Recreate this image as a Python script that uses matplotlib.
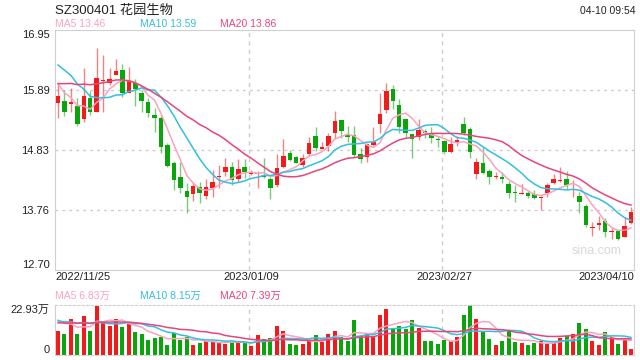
import numpy as np
import pandas as pd
import matplotlib
matplotlib.use("Agg")
import matplotlib.pyplot as plt

plt.rcParams["font.family"] = ["Liberation Sans", "Noto Sans CJK SC", "DejaVu Sans"]

# --- daily OHLC (2022/11/25 .. 2023/04/10) ---
opens = [15.663, 15.693, 15.640, 15.604, 15.374, 15.746, 15.504, 16.053, 16.017, 16.153,
         16.242, 15.840, 16.006, 15.840, 15.681, 15.445, 15.398, 14.914, 14.589, 14.353,
         14.099, 14.040, 14.164, 14.016, 14.146, 14.347, 14.441, 14.530, 14.311, 14.530,
         14.400, 14.400, 14.382, 14.311, 14.205, 14.530, 14.766, 14.707, 14.559, 14.754,
         15.073, 14.849, 14.896, 15.132, 15.356, 15.091, 15.091, 14.754, 14.707, 14.914,
         15.285, 15.533, 15.905, 15.622, 15.368, 15.103, 15.061, 15.161, 15.120, 15.020,
         14.984, 14.795, 14.973, 15.280, 15.197, 14.394, 14.589, 14.453, 14.347, 14.353,
         14.223, 14.081, 14.051, 14.069, 14.040, 13.969, 14.058, 14.247, 14.276, 14.311,
         14.164, 14.010, 13.828, 13.450, 13.491, 13.568, 13.373, 13.391, 13.290, 13.526]
highs = [16.006, 15.888, 15.917, 15.740, 16.271, 15.870, 16.625, 16.507, 16.271, 16.436,
         16.342, 16.289, 16.076, 15.888, 15.740, 15.563, 15.445, 14.943, 14.630, 14.618,
         14.235, 14.264, 14.264, 14.306, 14.471, 14.559, 14.677, 14.618, 14.660, 14.660,
         14.471, 14.459, 14.677, 14.353, 14.748, 15.020, 14.825, 14.719, 14.754, 15.049,
         15.226, 14.973, 15.132, 15.522, 15.356, 15.256, 15.250, 14.855, 14.955, 15.238,
         15.828, 16.006, 15.976, 15.728, 15.386, 15.108, 15.374, 15.197, 15.226, 15.073,
         15.002, 15.049, 15.073, 15.403, 15.226, 14.677, 14.884, 14.483, 14.441, 14.441,
         14.282, 14.205, 14.223, 14.105, 14.117, 14.010, 14.235, 14.400, 14.530, 14.453,
         14.294, 14.081, 13.869, 13.556, 13.651, 13.621, 13.438, 13.408, 13.633, 13.810]
lows = [15.386, 15.433, 15.504, 15.256, 15.327, 15.445, 15.504, 15.504, 15.976, 16.153,
        15.769, 15.828, 15.604, 15.504, 15.403, 15.150, 14.778, 14.530, 14.117, 14.058,
        13.703, 13.928, 13.881, 13.951, 13.999, 14.158, 14.365, 14.205, 14.264, 14.323,
        14.376, 14.158, 14.323, 13.951, 14.176, 14.500, 14.636, 14.589, 14.518, 14.736,
        14.813, 14.837, 14.813, 15.032, 15.032, 14.973, 14.695, 14.589, 14.618, 14.902,
        15.120, 15.486, 15.551, 15.120, 15.061, 14.689, 15.002, 15.032, 14.955, 14.884,
        14.754, 14.778, 14.896, 15.091, 14.689, 14.306, 14.400, 14.223, 14.311, 14.235,
        13.969, 13.910, 14.046, 13.969, 13.957, 13.763, 13.987, 14.223, 14.264, 14.129,
        13.999, 13.703, 13.467, 13.302, 13.408, 13.290, 13.243, 13.231, 13.278, 13.515]
closes = [15.781, 15.492, 15.675, 15.285, 15.781, 15.504, 16.094, 16.070, 16.076, 16.224,
          15.828, 16.065, 15.905, 15.699, 15.474, 15.398, 14.872, 14.548, 14.294, 14.158,
          13.999, 14.187, 14.058, 14.164, 14.258, 14.365, 14.530, 14.294, 14.483, 14.441,
          14.424, 14.418, 14.353, 14.158, 14.512, 14.719, 14.648, 14.601, 14.677, 14.943,
          14.855, 14.884, 15.073, 15.339, 15.167, 15.061, 14.736, 14.660, 14.931, 14.973,
          15.463, 15.870, 15.699, 15.238, 15.120, 15.014, 15.179, 15.120, 15.032, 14.996,
          14.795, 14.931, 15.008, 15.132, 14.795, 14.607, 14.412, 14.353, 14.359, 14.311,
          14.069, 14.063, 14.063, 14.016, 13.969, 13.987, 14.205, 14.311, 14.288, 14.205,
          14.176, 13.910, 13.497, 13.461, 13.538, 13.379, 13.379, 13.249, 13.479, 13.733]
# volume, in 万 shares
volumes = [11.01, 9.63, 16.51, 9.63, 17.89, 11.01, 22.47, 14.98, 13.45, 16.51,
           12.84, 14.37, 10.55, 9.63, 6.88, 7.80, 8.41, 4.59, 9.94, 6.88,
           8.41, 4.59, 5.35, 6.42, 6.42, 5.66, 5.04, 5.96, 6.11, 6.11,
           4.13, 9.17, 7.18, 7.95, 13.30, 11.01, 5.04, 4.59, 5.20, 6.88,
           9.17, 5.96, 9.63, 11.01, 8.41, 6.42, 16.05, 8.71, 9.63, 8.71,
           18.34, 21.10, 12.23, 13.30, 11.92, 16.05, 12.54, 6.42, 6.42, 5.04,
           6.88, 6.57, 8.25, 18.34, 22.93, 16.51, 10.70, 7.34, 4.59, 6.42,
           11.16, 5.96, 5.50, 4.59, 5.50, 6.42, 5.20, 5.50, 7.80, 8.71,
           9.63, 14.68, 11.92, 6.42, 4.59, 10.55, 8.25, 5.04, 6.88, 2.75]

# earlier sessions, only used so the moving averages start where the chart shows them
prior_closes = [15.5, 15.6, 15.7, 15.6, 15.7, 15.8, 15.7, 15.6, 15.7, 15.8,
                16.4, 16.6, 16.8, 16.7, 16.8, 16.3, 16.1, 16.0, 15.82]
prior_volumes = [13.0, 14.5, 13.5, 14.0, 13.8, 14.2, 13.6, 14.0, 13.9, 14.5,
                 15.0, 16.0, 15.5, 15.0, 15.5, 17.0, 18.0, 17.0, 17.0]

date_ticks = {0: "2022/11/25", 30: "2023/01/09", 60: "2023/02/27", 89: "2023/04/10"}
y_ticks = [12.70, 13.76, 14.83, 15.89, 16.95]
price_ma_labels = ["MA5 13.46", "MA10 13.59", "MA20 13.86"]
vol_ma_labels = ["MA5 6.83万", "MA10 8.15万", "MA20 7.39万"]

RED = "#f21a1a"
GREEN = "#0aa50a"
C_MA5 = "#f9a3bf"
C_MA10 = "#33bfe0"
C_MA20 = "#e8457a"
GRID = "#cccccc"
TXT = "#222222"

n = len(closes)
x = np.arange(n)
o = np.array(opens); h = np.array(highs); l = np.array(lows); c = np.array(closes)
v = np.array(volumes)
up = c >= o
cols = np.where(up, RED, GREEN)

all_close = pd.Series(prior_closes + closes)
all_vol = pd.Series(prior_volumes + volumes)
k = len(prior_closes)
ma = {w: all_close.rolling(w).mean().values[k:] for w in (5, 10, 20)}
vma = {w: all_vol.rolling(w).mean().values[k:] for w in (5, 10, 20)}

W, H = 640, 360
fig = plt.figure(figsize=(6.4, 3.6), dpi=100)
xl = (-0.47, 89.47)

def rect(x0, y0, x1, y1):
    return [x0 / W, 1 - y1 / H, (x1 - x0) / W, (y1 - y0) / H]

# --- price panel ---
ax = fig.add_axes(rect(55, 30, 634, 270))
ax.set_xlim(*xl)
ax.set_ylim(12.70, 16.95)
for t in y_ticks[1:-1]:
    ax.axhline(t, color=GRID, lw=1, ls=(0, (2, 3)), zorder=0)
for i in (30, 60):
    ax.axvline(i - 0.4, color=GRID, lw=1, ls=(0, (3, 3)), zorder=0)

ax.vlines(x, l, h, colors=cols, lw=1, alpha=0.55, zorder=2)
body = np.maximum(np.abs(c - o), 0.012)
ax.bar(x, body, bottom=np.minimum(o, c), width=0.7, color=cols, zorder=3)

ax.plot(x, ma[5], color=C_MA5, lw=1.1, zorder=4)
ax.plot(x, ma[10], color=C_MA10, lw=1.1, zorder=4)
ax.plot(x, ma[20], color=C_MA20, lw=1.1, zorder=4)

ax.set_yticks(y_ticks)
ax.set_yticklabels([f"{t:.2f}" for t in y_ticks], fontsize=8, color=TXT)
lbls = ax.get_yticklabels()
lbls[0].set_va("bottom")
lbls[-1].set_va("top")
ax.tick_params(axis="y", length=0, pad=4)
ax.set_xticks([])
for s in ax.spines.values():
    s.set_color("#d0d0d0")

for i, lab in date_ticks.items():
    ha = "left" if i == 0 else ("right" if i == n - 1 else "center")
    xi = xl[0] if i == 0 else (xl[1] if i == n - 1 else i)
    ax.text(xi, -0.03, lab, transform=ax.get_xaxis_transform(), ha=ha, va="center",
            fontsize=8, color=TXT)
ax.text(0.978, 0.08, "sina.com", transform=ax.transAxes, ha="right", va="center",
        fontsize=9, color="#d8d8d8")

# header
fig.text(55 / W, 1 - 11 / H, "SZ300401 花园生物", fontsize=9.5, color=TXT, va="center")
fig.text(636 / W, 1 - 11 / H, "04-10 09:54", fontsize=7.5, color=TXT, va="center", ha="right")
for xp, lab, col in zip((55, 140, 220), price_ma_labels, (C_MA5, C_MA10, C_MA20)):
    fig.text(xp / W, 1 - 24 / H, lab, fontsize=7.5, color=col, va="center")

# --- volume panel ---
av = fig.add_axes(rect(55, 305, 634, 355))
av.set_xlim(*xl)
vmax = v.max()
av.set_ylim(0, vmax)
av.bar(x, v, width=0.62, color=cols, zorder=2)
av.plot(x, vma[5], color=C_MA5, lw=1.1, zorder=3)
av.plot(x, vma[10], color=C_MA10, lw=1.1, zorder=3)
av.plot(x, vma[20], color=C_MA20, lw=1.1, zorder=3)
for i in (30, 60):
    av.axvline(i - 0.4, color=GRID, lw=1, ls=(0, (3, 3)), zorder=0)
av.set_xticks([])
av.set_yticks([0, vmax])
av.set_yticklabels(["0", f"{vmax:.2f}万"], fontsize=8, color=TXT)
vl = av.get_yticklabels()
vl[0].set_va("bottom")
vl[1].set_va("top")
av.tick_params(axis="y", length=0, pad=4)
for side in ("top", "bottom"):
    av.spines[side].set_linestyle((0, (2, 2)))
for s in av.spines.values():
    s.set_color("#d0d0d0")

for xp, lab, col in zip((55, 140, 220), vol_ma_labels, (C_MA5, C_MA10, C_MA20)):
    fig.text(xp / W, 1 - 296 / H, lab, fontsize=7.5, color=col, va="center")

fig.savefig("out.png", dpi=100)
